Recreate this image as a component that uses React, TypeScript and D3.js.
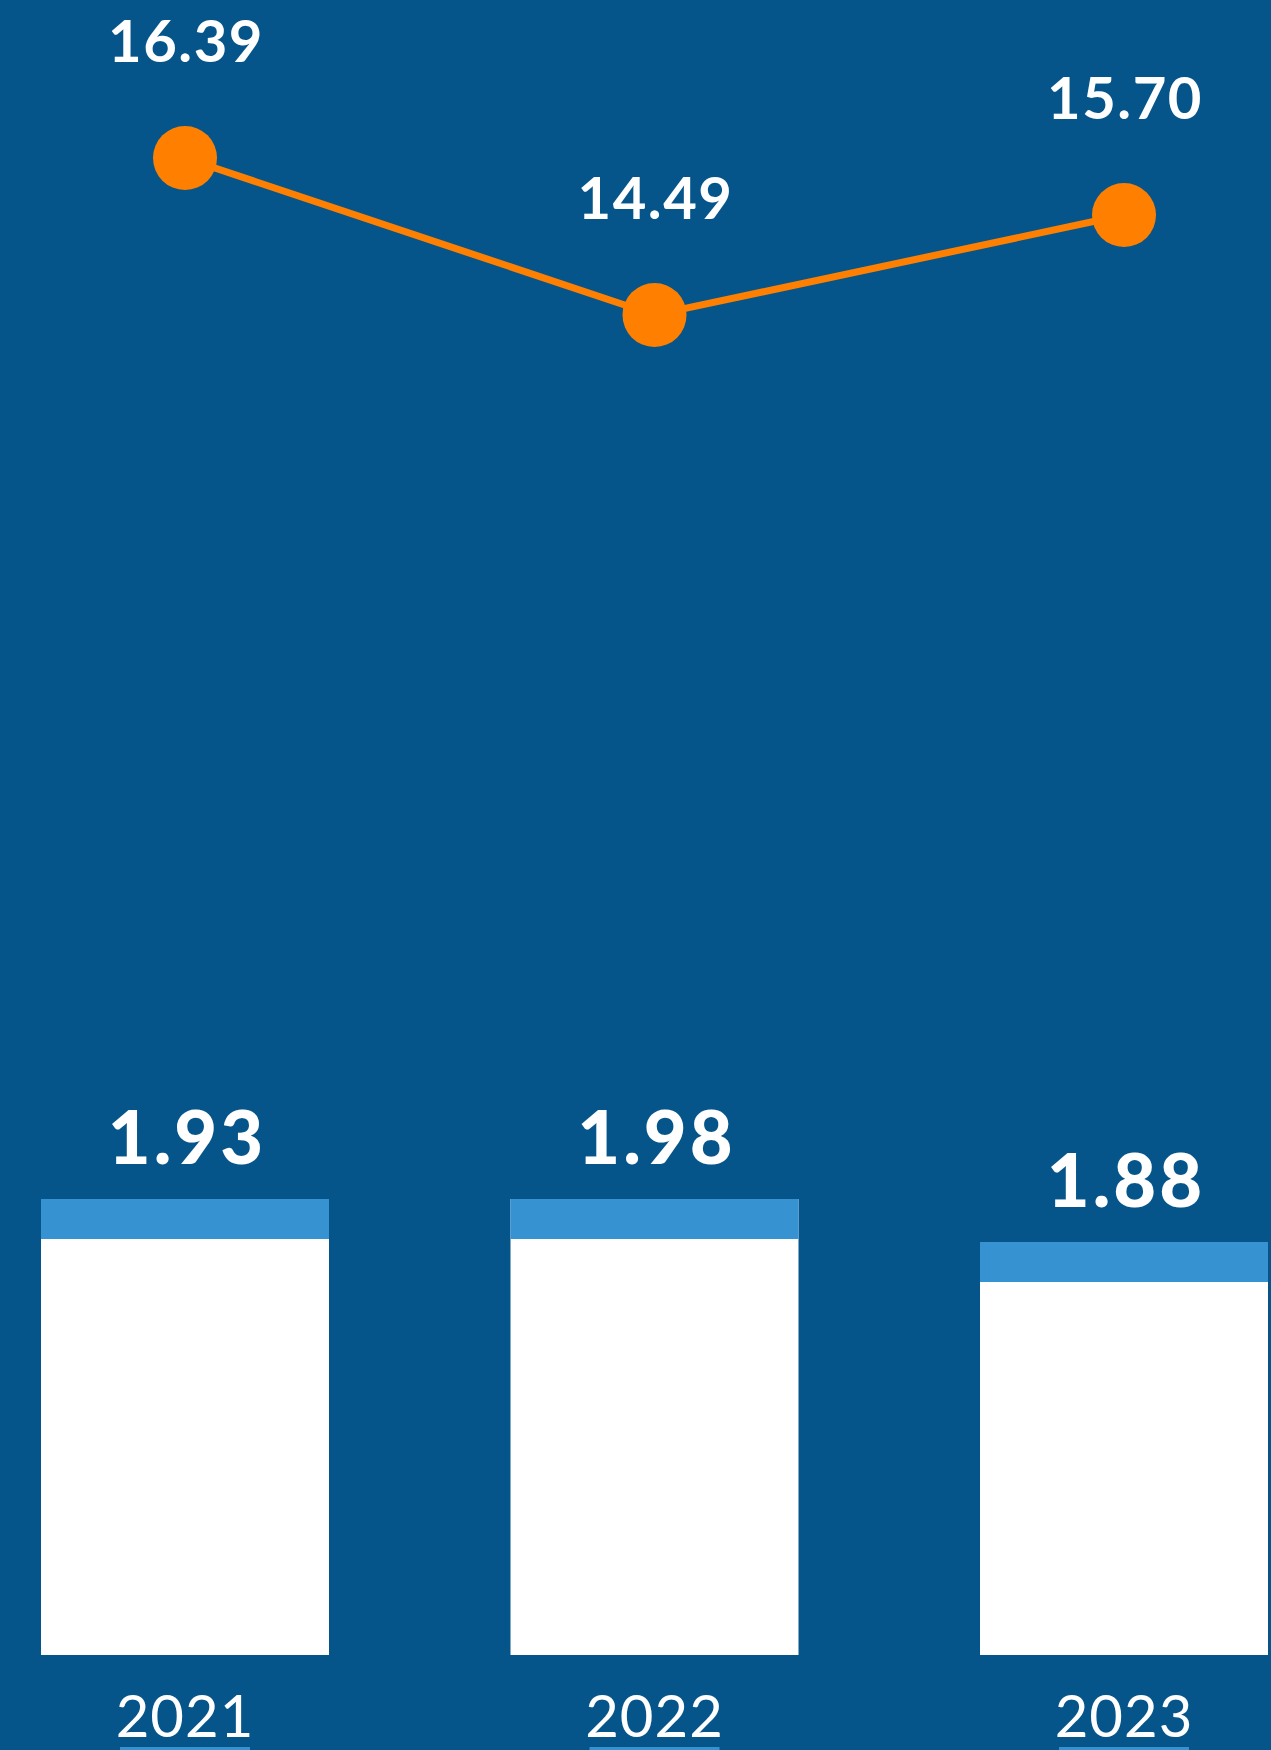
import React from "react";
import * as d3 from "d3";

const years = ["2021", "2022", "2023"];
const lineValues = [16.39, 14.49, 15.7];
const lineLabels = ["16.39", "14.49", "15.70"];
const barValues = [1.93, 1.93, 1.88];
const barLabels = ["1.93", "1.98", "1.88"];

const W = 1271;
const H = 1750;
const BG = "#05558B";
const ORANGE = "#FF8000";
const LIGHT = "#3792D1";
const FONT = "Lato, 'Open Sans', sans-serif";

export default function App() {
  const x = d3.scalePoint<string>().domain(years).range([185, 1124]);
  const yLine = d3.scaleLinear().domain([14.49, 16.39]).range([315, 158]);
  const yBar = d3.scaleLinear().domain([1.4, 1.93]).range([1655, 1199]);
  const barW = 288;
  const capH = 40;

  const line = d3
    .line<number>()
    .x((_, i) => x(years[i]) as number)
    .y((d) => yLine(d));

  return (
    <svg
      width={W}
      height={H}
      style={{ position: "absolute", left: 0, top: 0, display: "block" }}
    >
      <rect x={0} y={0} width={W} height={H} fill={BG} />
      {/* bars */}
      {barValues.map((v, i) => {
        const cx = x(years[i]) as number;
        const top = yBar(v);
        const bottom = yBar(1.4);
        return (
          <g key={"b" + i}>
            <rect x={cx - barW / 2} y={top} width={barW} height={bottom - top} fill="#FFFFFF" />
            <rect x={cx - barW / 2} y={top} width={barW} height={capH} fill={LIGHT} />
            <text
              x={cx + 2}
              y={top - 35}
              textAnchor="middle"
              fill="#FFFFFF"
              fontFamily={FONT}
              fontWeight={900}
              fontSize={74}
              letterSpacing={3}
            >
              {barLabels[i]}
            </text>
          </g>
        );
      })}
      {/* line */}
      <path d={line(lineValues) || ""} fill="none" stroke={ORANGE} strokeWidth={7} />
      {lineValues.map((v, i) => {
        const cx = x(years[i]) as number;
        const cy = yLine(v);
        return (
          <g key={"p" + i}>
            <circle cx={cx} cy={cy} r={32} fill={ORANGE} />
            <text
              x={cx + 1}
              y={cy - 96}
              textAnchor="middle"
              fill="#FFFFFF"
              fontFamily={FONT}
              fontWeight={700}
              fontSize={58}
              letterSpacing={1.5}
            >
              {lineLabels[i]}
            </text>
          </g>
        );
      })}
      {/* year labels */}
      {years.map((yr, i) => {
        const cx = x(yr) as number;
        return (
          <g key={"y" + i}>
            <text
              x={cx}
              y={1737}
              textAnchor="middle"
              fill="#FFFFFF"
              fontFamily={FONT}
              fontWeight={400}
              fontSize={58}
              letterSpacing={1}
            >
              {yr}
            </text>
            <rect x={cx - 65} y={1747} width={130} height={4} fill={LIGHT} />
          </g>
        );
      })}
    </svg>
  );
}
